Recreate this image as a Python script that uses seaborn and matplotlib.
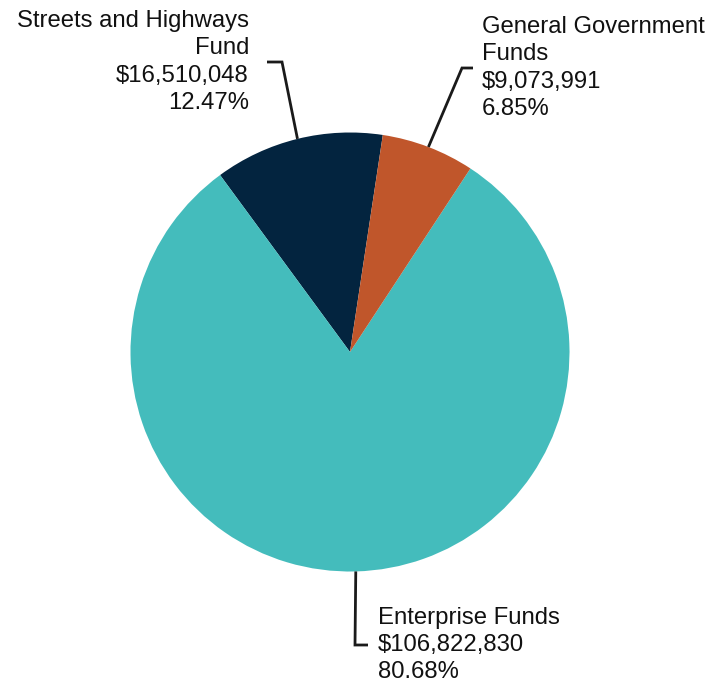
import numpy as np
import matplotlib
matplotlib.use("Agg")
import matplotlib.pyplot as plt
import seaborn as sns

# Fund totals (counter-clockwise order from the start angle)
funds = ["Streets and Highways\nFund", "Enterprise Funds", "General Government\nFunds"]
amounts = [16510048, 106822830, 9073991]
shares = [12.47, 80.68, 6.85]
colors = ["#03243F", "#44BCBC", "#C0562B"]

sns.set_theme(style="white")
plt.rcParams["font.family"] = ["Liberation Sans", "DejaVu Sans"]

W, H = 723, 689
fig = plt.figure(figsize=(W / 100, H / 100), dpi=100)
ax = fig.add_axes([0, 0, 1, 1])

cx, cy, r = 350, H - 352, 219.5
wedges, _ = ax.pie(amounts, colors=colors, startangle=81.4, counterclock=True,
                   center=(cx, cy), radius=r, frame=True,
                   wedgeprops=dict(linewidth=0))
ax.set_xlim(0, W)
ax.set_ylim(0, H)
ax.axis("off")

# elbow point, end of the horizontal tick, text anchor, alignment
layout = [
    ((282, H - 62), (267, H - 62), (249, H - 62), "right"),
    ((355, H - 645), (368, H - 645), (378, H - 645), "left"),
    ((462, H - 68), (473, H - 68), (482, H - 68), "left"),
]

for w, name, amt, pct, (elbow, tick, anchor, ha) in zip(wedges, funds, amounts, shares, layout):
    mid = np.deg2rad((w.theta1 + w.theta2) / 2)
    sx, sy = cx + r * np.cos(mid), cy + r * np.sin(mid)
    ax.plot([sx, elbow[0], tick[0]], [sy, elbow[1], tick[1]],
            color="#1a1a1a", lw=2, solid_capstyle="butt", solid_joinstyle="miter")
    label = f"{name}\n${amt:,.0f}\n{pct:.2f}%"
    ax.text(anchor[0], anchor[1], label, ha=ha, va="center", multialignment=ha,
            fontsize=17.2, color="#111111", linespacing=1.31)

fig.savefig("out.png", dpi=100)
